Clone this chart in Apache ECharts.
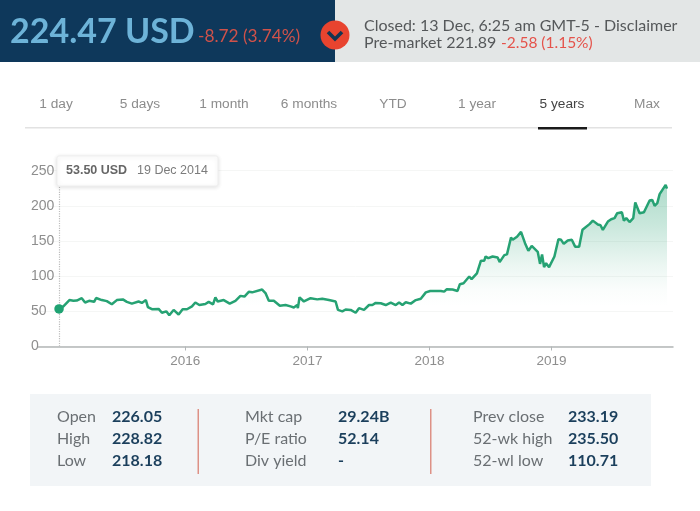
<!DOCTYPE html>
<html>
<head>
<meta charset="utf-8">
<style>html,body{margin:0;padding:0;background:#fff}#c{width:700px;height:511px}</style>
<script src="https://cdn.jsdelivr.net/npm/echarts@6/dist/echarts.min.js"></script>
</head>
<body>
<div id="c"></div>
<script>
// Days elapsed since the first session (19 Dec 2014)
const daysSinceStart = [0,13,31,43,53,68,78,90,105,111,128,143,158,173,191,203,218,238,248,260,266,278,298,308,321,330,343,358,370,383,398,408,420,438,448,461,468,475,493,511,528,543,555,568,578,608,618,628,643,661,678,693,703,713,715,720,733,753,773,788,808,828,835,848,858,873,
 888,898,913,928,938,948,963,978,993,1008,1018,1028,1038,1053,1068,1083,1098,1111,1143,1153,1161,1178,1193,1200,1211,1228,1235,1251,1263,1273,1277,1285,1298,1313,1319,1333,1341,1353,1358,1371,1383,1395,1405,1415,1433,1440,1446,1452,1458,1467,1483,1495,1503,1511,1523,1535,1545,1557,1567,1588,1598,1613,1621,1628,1643,1653,1663,1671,1685,1691,1698,1708,1719,1725,1738,1751,1768,1776,1783,1791,1798,1816,1820];
const closes = [53.5,57,66,65,65.4,68.7,62.6,65,63.5,69,66,64.5,60,66,67,63.5,61,64,62,66,56,53,53.5,48,50,44.5,52,45.5,53,53,57,62.5,59,60.5,63.5,60,69.7,64,66,61,65,72,71,77.7,77,81,76,65,65,58,59,57,55.5,59,54.5,70,64,68.7,67,68,66,64,52,50,52.6,52,
 48,54.5,52,59,59,62,61.5,59,62.5,59,62.5,59,63,61,66,68,77,79,79,78,81.5,81,79,88.6,90,99.5,95.7,104,122,122,128,125.6,128,126.5,120,130,131,155,151.7,156,163,147,136,143,134.6,117.5,130.8,112.8,118.5,112.8,128,152.6,151.7,146,150.7,151.7,142,142,165.9,174,179,173.5,172.5,165.9,177.7,181,182.5,189.6,191,179,182.5,177,182.5,205,189.6,191,207.6,208.5,200,203.8,216.6,229.9,224.5];
const yearTicks = [2016,2017,2018,2019];
const rangeTabs = ['1 day','5 days','1 month','6 months','YTD','1 year','5 years','Max'];
const statLabels = [['Open','High','Low'],['Mkt cap','P/E ratio','Div yield'],['Prev close','52-wk high','52-wl low']];
const statValues = [['226.05','228.82','218.18'],['29.24B','52.14','-'],['233.19','235.50','110.71']];

const DAY = 86400000;
const startTime = Date.UTC(2014,11,19);
const points = daysSinceStart.map((d,i)=>[startTime+d*DAY, closes[i]]);
const yearTimes = yearTicks.map(y=>Date.UTC(y,0,1));

const txt = (text,x,y,font,fill,align)=>({type:'text',x,y,z:20,style:{text,font,fill,textAlign:align||'left',textVerticalAlign:'middle'}});
const rect = (x,y,width,height,fill)=>({type:'rect',z:5,shape:{x,y,width,height},style:{fill}});

const graphic = [
  rect(0,0,335,62,'#0e385b'),
  rect(335,0,365,62,'#e3e6e6'),
  {type:'circle',z:10,shape:{cx:335,cy:35,r:14.5},style:{fill:'#e8442f'}},
  {type:'polyline',z:11,shape:{points:[[328,32],[335,39],[342,32]]},style:{stroke:'#123552',lineWidth:3.6,fill:null}},
  txt('224.47 USD',10,32,'bold 34px Lato','#6db3d8'),
  txt('-8.72 (3.74%)',198,36,'17.3px Lato','#d0524a'),
  txt('Closed: 13 Dec, 6:25 am GMT-5 - Disclaimer',364,26,'16px Lato','#55585a'),
  txt('Pre-market 221.89',364,43,'16px Lato','#55585a'),
  txt('-2.58 (1.15%)',501,43,'15.5px Lato','#e5534b'),
  rect(25,127,647,1.5,'#e2e2e2'),
  rect(538,127,49,2.5,'#1a1a1a'),
  rect(30,394,621,92,'#f2f5f7'),
  rect(197.5,409,1.5,65,'#dd9186'),
  rect(430,409,1.5,65,'#dd9186')
];
const tabCentres = [56,140,224,309,393,477,562,647];
rangeTabs.forEach((t,i)=>graphic.push(txt(t,tabCentres[i],104,'13.7px "Liberation Sans"',i===6?'#444':'#8c8c8c','center')));
const labelX = [57,245,473], valueX = [112,338,568], rowY = [416.5,438.5,460.5];
statLabels.forEach((col,c)=>col.forEach((t,r)=>{
  graphic.push(txt(t,labelX[c],rowY[r],'16px Lato','#6a6f73'));
  graphic.push(txt(statValues[c][r],valueX[c],rowY[r],'bold 16px Lato','#1b3f5c'));
}));
// hover callout
graphic.push({type:'rect',z:15,shape:{x:57,y:156,width:161,height:30,r:2},style:{fill:'#fff',stroke:'#efefef',lineWidth:1,shadowBlur:4,shadowColor:'rgba(0,0,0,0.12)',shadowOffsetY:1}});
graphic.push(txt('53.50 USD',66,171,'bold 12.5px "Liberation Sans"','#666'));
graphic.push(txt('19 Dec 2014',137,171,'12.5px "Liberation Sans"','#7c7c7c'));

const chart = echarts.init(document.getElementById('c'),null,{renderer:'canvas',width:700,height:511});
chart.setOption({
  animation:false,
  backgroundColor:'#fff',
  grid:{left:38,right:27,top:170.7,bottom:164.5,containLabel:false},
  xAxis:{type:'value',min:Date.UTC(2014,9,17),max:Date.UTC(2019,11,31),
    axisLine:{show:true,onZero:false,lineStyle:{color:'#b2b6b7',width:1.5}},
    axisTick:{show:true,customValues:yearTimes,length:4,lineStyle:{color:'#b2b6b7',width:1}},
    axisLabel:{customValues:yearTimes,formatter:v=>String(new Date(v).getUTCFullYear()),color:'#8e8e8e',fontSize:13.5,fontFamily:'Liberation Sans',margin:8,hideOverlap:false,showMinLabel:true,showMaxLabel:true},
    splitLine:{show:false}},
  yAxis:{type:'value',min:0,max:250,interval:50,
    axisLine:{show:false},axisTick:{show:false},
    axisLabel:{color:'#8e8e8e',fontSize:14,fontFamily:'Liberation Sans',align:'left',margin:7,formatter:v=>String(v)},
    splitLine:{lineStyle:{color:'#f5f6f5',width:1}}},
  graphic:{elements:graphic},
  series:[
    {type:'line',data:points,symbol:'none',smooth:false,z:3,
     lineStyle:{color:'#26a273',width:2.5},
     areaStyle:{color:new echarts.graphic.LinearGradient(0,0,0,1,[
       {offset:0,color:'rgba(43,162,117,0.55)'},
       {offset:0.25,color:'rgba(43,162,117,0.36)'},
       {offset:0.5,color:'rgba(43,162,117,0.13)'},
       {offset:0.65,color:'rgba(43,162,117,0.03)'},
       {offset:0.75,color:'rgba(43,162,117,0)'},
       {offset:1,color:'rgba(43,162,117,0)'}])},
     markLine:{silent:true,symbol:'none',label:{show:false},
       lineStyle:{color:'#bdbdbd',type:'dotted',width:1.2},
       data:[[{coord:[startTime,0]},{coord:[startTime,240]}]]}},
    {type:'scatter',data:[points[0]],symbol:'circle',symbolSize:9.5,itemStyle:{color:'#1fa272',opacity:1},z:6}
  ]
});
</script>
</body>
</html>
